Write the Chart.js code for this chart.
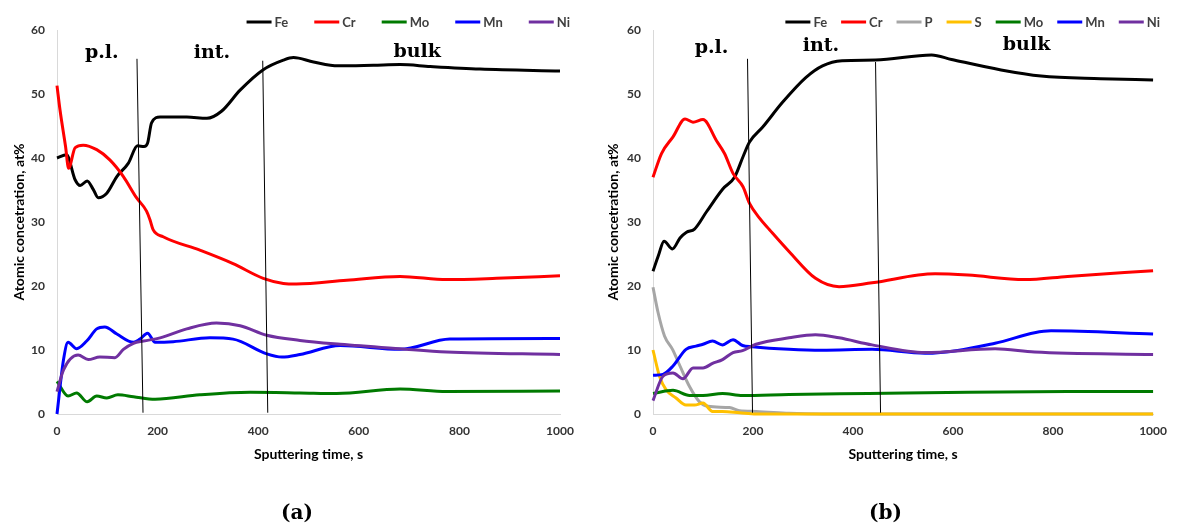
<!DOCTYPE html>
<html>
<head>
<meta charset="utf-8">
<script src="https://cdn.jsdelivr.net/npm/chart.js@4/dist/chart.umd.min.js"></script>
<style>
  body { margin: 0; background: #fff; }
  canvas { position: absolute; top: 0; }
  #chartA { left: 0; }
  #chartB { left: 594px; }
</style>
</head>
<body>
<canvas id="chartA" width="594" height="526"></canvas>
<canvas id="chartB" width="583" height="526"></canvas>
<script>
// ---- (a) ----
const aFeT = [0, 19, 36, 46, 60, 72, 82, 99, 119, 142, 160, 173, 180, 188, 205, 258, 298, 327, 364, 410, 450, 470, 510, 559, 629, 682, 742, 841, 1000];
const aFe  = [40.0, 40.5, 36.6, 35.7, 36.4, 35.1, 33.8, 34.5, 37.1, 39.2, 41.9, 41.8, 42.3, 45.5, 46.4, 46.4, 46.2, 47.3, 50.6, 53.8, 55.3, 55.7, 55.0, 54.4, 54.5, 54.6, 54.3, 53.9, 53.6];
const aCrT = [0, 6, 17, 23, 36, 52, 79, 105, 132, 158, 178, 185, 191, 211, 284, 350, 410, 450, 476, 576, 682, 775, 874, 1000];
const aCr  = [51.3, 47.5, 41.8, 38.4, 41.6, 42.0, 41.3, 39.7, 37.1, 33.8, 31.7, 30.3, 28.8, 27.7, 25.6, 23.5, 21.2, 20.4, 20.3, 20.9, 21.5, 21.0, 21.2, 21.6];
const aMoT = [0, 22, 39, 60, 79, 99, 121, 152, 195, 284, 384, 483, 556, 682, 775, 1000];
const aMo  = [5.1, 2.8, 3.3, 1.9, 2.8, 2.5, 3.0, 2.7, 2.3, 3.0, 3.4, 3.3, 3.2, 3.9, 3.5, 3.6];
const aMnT = [0, 13, 22, 39, 59, 79, 95, 119, 152, 165, 180, 195, 231, 304, 350, 417, 447, 483, 563, 682, 781, 1000];
const aMn  = [0, 8.5, 11.2, 10.2, 11.4, 13.3, 13.6, 12.5, 11.2, 11.7, 12.6, 11.2, 11.3, 11.9, 11.7, 9.4, 8.9, 9.3, 10.7, 10.1, 11.7, 11.8];
const aNiT = [0, 13, 42, 62, 85, 115, 132, 152, 172, 205, 258, 317, 364, 417, 483, 563, 682, 775, 1000];
const aNi  = [3.5, 6.9, 9.2, 8.5, 8.9, 8.8, 10.1, 11.05, 11.4, 11.9, 13.3, 14.2, 13.8, 12.3, 11.5, 10.9, 10.2, 9.7, 9.3];

// ---- (b) ----
const bFeT = [0, 11, 22, 39, 54, 67, 83, 107, 140, 163, 180, 193, 219, 259, 306, 339, 378, 445, 557, 597, 696, 776, 895, 1000];
const bFe  = [22.3, 24.8, 27.0, 25.8, 27.5, 28.4, 28.9, 31.6, 35.2, 37.0, 40.2, 42.5, 44.8, 48.7, 52.6, 54.4, 55.2, 55.3, 56.1, 55.4, 53.75, 52.8, 52.4, 52.2];
const bCrT = [0, 17, 40, 64, 80, 100, 127, 143, 160, 180, 193, 213, 233, 272, 325, 372, 438, 564, 630, 743, 829, 1000];
const bCr  = [37.0, 40.7, 43.3, 46.1, 45.6, 46.0, 42.7, 40.7, 37.6, 35.5, 32.9, 30.6, 28.8, 25.4, 21.2, 19.9, 20.5, 21.9, 21.7, 21.0, 21.5, 22.4];
const bPT  = [0, 10, 23, 39, 54, 73, 93, 110, 153, 173, 206, 272, 338, 1000];
const bP   = [19.8, 15.9, 12.2, 10.1, 7.5, 4.3, 1.9, 1.2, 1.0, 0.5, 0.4, 0.1, 0, 0];
const bST  = [0, 13, 26, 46, 66, 83, 100, 119, 139, 173, 206, 1000];
const bS   = [10.0, 5.9, 3.8, 2.5, 1.4, 1.4, 1.7, 0.4, 0.4, 0.2, 0, 0];
const bMoT = [0, 40, 73, 100, 139, 179, 272, 431, 630, 829, 1000];
const bMo  = [3.2, 3.7, 2.9, 2.9, 3.2, 2.9, 3.05, 3.2, 3.4, 3.5, 3.5];
const bMnT = [0, 20, 40, 66, 86, 100, 119, 139, 160, 179, 199, 272, 338, 438, 544, 684, 763, 796, 1000];
const bMn  = [6.05, 6.2, 7.5, 10.1, 10.6, 10.9, 11.4, 10.8, 11.6, 10.7, 10.5, 10.1, 9.95, 10.1, 9.5, 11.05, 12.7, 13.0, 12.5];
const bNiT = [0, 20, 40, 60, 80, 100, 119, 139, 160, 179, 206, 272, 325, 372, 438, 544, 684, 763, 1000];
const bNi  = [2.1, 5.9, 6.4, 5.5, 7.2, 7.2, 7.9, 8.5, 9.6, 9.9, 10.9, 11.9, 12.4, 11.9, 10.8, 9.6, 10.2, 9.7, 9.3];

// layer boundaries (hand drawn, slightly slanted): top x, bottom x, top y
const aBoundTop = [159, 409], aBoundBottom = [171, 419], aBoundTopY = [55.5, 55.2];
const bBoundTop = [189, 445], bBoundBottom = [199, 455], bBoundTopY = [55.5, 55.0];

const zoneNames = ["p.l.", "int.", "bulk"];
const aZoneX = [89, 308, 716], aZoneY = [55.6, 55.6, 55.8];
const bZoneX = [117, 336, 747], bZoneY = [56.4, 56.7, 56.9];

const colors = { Fe: "#000000", Cr: "#ff0000", P: "#a6a6a6", S: "#ffc000", Mo: "#007a00", Mn: "#0000ff", Ni: "#7030a0" };
const sansBold = "Lato, 'Open Sans', sans-serif";

function pairs(ts, vs) {
  return ts.map((t, i) => ({ x: t, y: vs[i] }));
}

// later series are drawn on top, like the spreadsheet original
function series(label, ts, vs, idx) {
  return {
    label,
    data: pairs(ts, vs),
    borderColor: colors[label],
    backgroundColor: colors[label],
    borderWidth: 3,
    pointRadius: 0,
    cubicInterpolationMode: "monotone",
    clip: false,
    order: -idx
  };
}

function boundary(top, bottom, topY) {
  return top.map((t, i) => ({
    label: "",
    data: [{ x: t, y: topY[i] }, { x: bottom[i], y: 0.2 }],
    borderColor: "#000",
    borderWidth: 1,
    pointRadius: 0,
    tension: 0,
    order: -20
  }));
}

// legend drawn as a line + bold label, right aligned
const lineLegend = {
  id: "lineLegend",
  afterDraw(chart, args, opts) {
    const ctx = chart.ctx;
    const items = chart.data.datasets.filter(d => d.label);
    ctx.save();
    ctx.font = "bold 13px " + sansBold;
    const widths = items.map(d => 25 + 3 + ctx.measureText(d.label).width);
    const total = widths.reduce((a, b) => a + b, 0) + opts.pad * (items.length - 1);
    let x = opts.right - total;
    items.forEach((d, i) => {
      ctx.strokeStyle = d.borderColor;
      ctx.lineWidth = 3;
      ctx.beginPath();
      ctx.moveTo(x, opts.y);
      ctx.lineTo(x + 25, opts.y);
      ctx.stroke();
      ctx.fillStyle = "#404040";
      ctx.textBaseline = "middle";
      ctx.textAlign = "left";
      ctx.fillText(d.label, x + 28, opts.y + 1);
      x += widths[i] + opts.pad;
    });
    ctx.restore();
  }
};

const zoneLabels = {
  id: "zoneLabels",
  afterDatasetsDraw(chart, args, opts) {
    const ctx = chart.ctx;
    const { x, y } = chart.scales;
    ctx.save();
    ctx.font = "bold 19px 'DejaVu Serif', serif";
    ctx.fillStyle = "#000";
    ctx.textAlign = "center";
    ctx.textBaseline = "alphabetic";
    zoneNames.forEach((n, i) => {
      ctx.fillText(n, x.getPixelForValue(opts.xs[i]), y.getPixelForValue(opts.ys[i]));
    });
    ctx.restore();
  }
};

function profileChart(canvasId, datasets, cfg) {
  return new Chart(document.getElementById(canvasId), {
    type: "line",
    data: { datasets },
    plugins: [lineLegend, zoneLabels],
    options: {
      responsive: false,
      animation: false,
      layout: { padding: { top: 30, left: 0, right: 0, bottom: 0 } },
      plugins: {
        legend: { display: false },
        tooltip: { enabled: false },
        title: {
          display: true,
          position: "bottom",
          text: cfg.title,
          font: { family: "'DejaVu Serif', serif", size: 20, weight: "bold", lineHeight: 1.2 },
          color: "#000",
          padding: 0
        },
        lineLegend: { right: cfg.legendRight, y: 22, pad: cfg.legendPad },
        zoneLabels: { xs: cfg.zoneX, ys: cfg.zoneY }
      },
      scales: {
        x: {
          type: "linear",
          min: 0,
          max: 1000,
          grid: { display: false, drawTicks: false },
          border: { color: "#d9d9d9" },
          ticks: {
            stepSize: 200, padding: 10, color: "#333",
            font: { family: sansBold, size: 12, weight: "bold" },
            callback: v => String(v)
          },
          title: {
            display: true,
            text: "Sputtering time, s",
            color: "#000",
            font: { family: sansBold, size: 14, weight: "bold" },
            padding: { top: 0, bottom: 39 }
          },
          afterFit: s => { s.height = 88; }
        },
        y: {
          min: 0,
          max: 60,
          grid: { display: false, drawTicks: false },
          border: { color: "#d9d9d9" },
          ticks: { stepSize: 10, padding: 12, color: "#333", font: { family: sansBold, size: 12, weight: "bold" } },
          title: {
            display: true,
            text: "Atomic concetration, at%",
            color: "#000",
            font: { family: sansBold, size: 14, weight: "bold" },
            padding: { top: 11, bottom: 0 }
          },
          afterFit: s => { s.width = cfg.leftWidth; }
        },
        yRight: {
          position: "right",
          min: 0,
          max: 60,
          grid: { display: false, drawTicks: false },
          border: { display: false },
          ticks: { display: false },
          afterFit: s => { s.width = cfg.rightWidth; }
        }
      }
    }
  });
}

profileChart("chartA", [
  series("Fe", aFeT, aFe, 0),
  series("Cr", aCrT, aCr, 1),
  series("Mo", aMoT, aMo, 2),
  series("Mn", aMnT, aMn, 3),
  series("Ni", aNiT, aNi, 4),
  ...boundary(aBoundTop, aBoundBottom, aBoundTopY)
], { title: "(a)", leftWidth: 57, rightWidth: 34, legendRight: 570, legendPad: 26, zoneX: aZoneX, zoneY: aZoneY });

profileChart("chartB", [
  series("Fe", bFeT, bFe, 0),
  series("Cr", bCrT, bCr, 1),
  series("P", bPT, bP, 2),
  series("S", bST, bS, 3),
  series("Mo", bMoT, bMo, 4),
  series("Mn", bMnT, bMn, 5),
  series("Ni", bNiT, bNi, 6),
  ...boundary(bBoundTop, bBoundBottom, bBoundTopY)
], { title: "(b)", leftWidth: 59, rightWidth: 21, legendRight: 566, legendPad: 14, zoneX: bZoneX, zoneY: bZoneY });
</script>
</body>
</html>
